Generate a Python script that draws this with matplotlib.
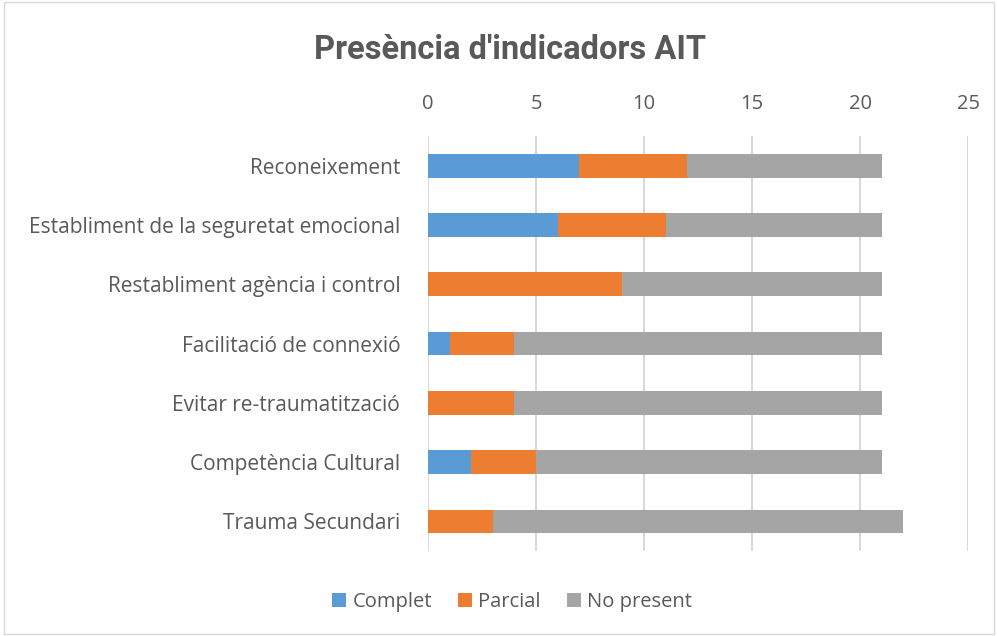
import matplotlib
matplotlib.use("Agg")
import matplotlib.pyplot as plt
from matplotlib.patches import Rectangle

categories = ["Reconeixement", "Establiment de la seguretat emocional",
              "Restabliment agència i control", "Facilitació de connexió",
              "Evitar re-traumatització", "Competència Cultural", "Trauma Secundari"]
complet = [7, 6, 0, 1, 0, 2, 0]
parcial = [5, 5, 9, 3, 4, 3, 3]
no_present = [9, 10, 12, 17, 17, 16, 19]
series_names = ["Complet", "Parcial", "No present"]
colors = ["#5B9BD5", "#ED7D31", "#A5A5A5"]
xticks = [0, 5, 10, 15, 20, 25]

txt = "#595959"
plt.rcParams['font.family'] = ['Open Sans', 'DejaVu Sans']

fig = plt.figure(figsize=(9.97, 6.36), dpi=100)
fig.patches.append(Rectangle((0.004, 0.003), 0.993, 0.994, transform=fig.transFigure,
                             fill=False, edgecolor="#D9D9D9", linewidth=1))
ax = fig.add_axes([428/997, 1-551/636, 540/997, 415/636])

y = list(range(len(categories)))
left = [0]*len(categories)
for vals, name, c in zip([complet, parcial, no_present], series_names, colors):
    ax.barh(y, vals, left=left, height=0.4, color=c, label=name, zorder=3)
    left = [l + v for l, v in zip(left, vals)]

ax.set_xlim(0, 25)
ax.set_ylim(len(categories) - 0.5, -0.5)
ax.set_xticks(xticks)
ax.set_yticks(y)
ax.set_yticklabels(categories)
ax.xaxis.tick_top()
ax.tick_params(axis='both', length=0, labelsize=15, colors=txt)
ax.tick_params(axis='x', labelsize=14.5, pad=16)
ax.tick_params(axis='y', pad=20)
for s in ax.spines.values():
    s.set_visible(False)
ax.grid(axis='x', color="#D9D9D9", linewidth=1.5, zorder=0)

fig.text(510/997, 1-50/636, "Presència d'indicadors AIT", ha='center', va='center',
         fontsize=23.5, fontweight='bold', color=txt,
         family=['Roboto', 'DejaVu Sans'])

fig.legend(loc='center', bbox_to_anchor=(512/997, 1-602/636), ncol=3, frameon=False,
           fontsize=14.5, labelcolor=txt, handlelength=0.7, handleheight=0.7,
           handletextpad=0.3, columnspacing=1.3)

fig.savefig("out.png", dpi=100)
